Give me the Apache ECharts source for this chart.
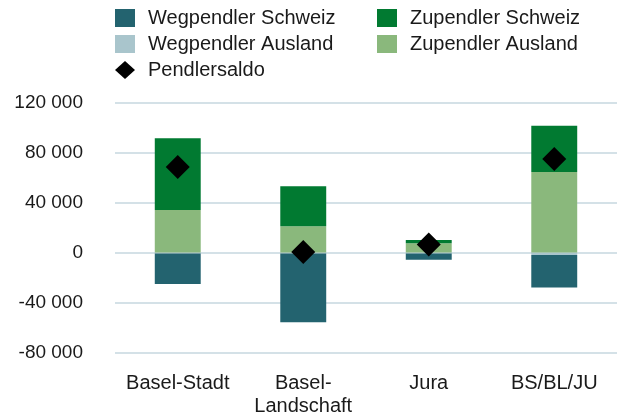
<!DOCTYPE html>
<html>
<head>
<meta charset="utf-8">
<script src="https://cdn.jsdelivr.net/npm/echarts@6/dist/echarts.min.js"></script>
<style>
  html, body { margin: 0; padding: 0; background: #fff; }
  #chart { width: 621px; height: 416px; }
</style>
</head>
<body>
<div id="chart"></div>
<script>
const categories = ['Basel-Stadt', 'Basel-\nLandschaft', 'Jura', 'BS/BL/JU'];
const wegSchweiz = [-24500, -55000, -5000, -26000];
const wegAusland = [-700, -700, -800, -2000];
const zuSchweiz = [57500, 32000, 2600, 37000];
const zuAusland = [34000, 21000, 7400, 64500];
const saldo = [68500, 500, 6500, 74800];
const yTicks = { min: -80000, max: 120000, step: 40000 };

const font = 'Liberation Sans, Arial, sans-serif';
const chart = echarts.init(document.getElementById('chart'));

function fmt(v) {
  const s = String(Math.abs(v)).replace(/\B(?=(\d{3})+(?!\d))/g, ' ');
  return (v < 0 ? '-' : '') + s;
}

const legendText = { fontFamily: font, fontSize: 20, color: '#1a1a1a', padding: [0, 0, 0, 8] };

chart.setOption({
  animation: false,
  legend: [
    {
      left: 115, top: 8, orient: 'vertical', padding: 0,
      itemWidth: 20, itemHeight: 18, itemGap: 6, icon: 'rect',
      textStyle: legendText,
      data: ['Wegpendler Schweiz', 'Wegpendler Ausland', { name: 'Pendlersaldo', icon: 'diamond' }]
    },
    {
      left: 377, top: 8, orient: 'vertical', padding: 0,
      itemWidth: 20, itemHeight: 18, itemGap: 6, icon: 'rect',
      textStyle: legendText,
      data: ['Zupendler Schweiz', 'Zupendler Ausland']
    }
  ],
  grid: { left: 115, right: 4, top: 102.5, bottom: 63.5, containLabel: false, outerBoundsMode: 'none' },
  xAxis: {
    type: 'category',
    data: categories,
    axisLine: { show: false, onZero: false },
    axisTick: { show: false },
    axisLabel: { fontFamily: font, fontSize: 20, color: '#1a1a1a', margin: 19, lineHeight: 23, interval: 0 }
  },
  yAxis: {
    type: 'value',
    min: yTicks.min, max: yTicks.max, interval: yTicks.step,
    axisLine: { show: false },
    axisTick: { show: false },
    splitLine: { lineStyle: { color: '#c6d7df', width: 1.5 } },
    axisLabel: { fontFamily: font, fontSize: 19, color: '#1a1a1a', margin: 32, formatter: fmt }
  },
  series: [
    { name: 'Wegpendler Ausland', type: 'bar', stack: 'p', barWidth: '36.6%', data: wegAusland, itemStyle: { color: '#a9c5cc' } },
    { name: 'Wegpendler Schweiz', type: 'bar', stack: 'p', data: wegSchweiz, itemStyle: { color: '#23636f' } },
    { name: 'Zupendler Ausland', type: 'bar', stack: 'p', data: zuAusland, itemStyle: { color: '#8ab87c' } },
    { name: 'Zupendler Schweiz', type: 'bar', stack: 'p', data: zuSchweiz, itemStyle: { color: '#017a31' } },
    { name: 'Pendlersaldo', type: 'scatter', symbol: 'diamond', symbolSize: [24, 24], data: saldo, itemStyle: { color: '#000', opacity: 1 }, z: 5 }
  ]
});
</script>
</body>
</html>
